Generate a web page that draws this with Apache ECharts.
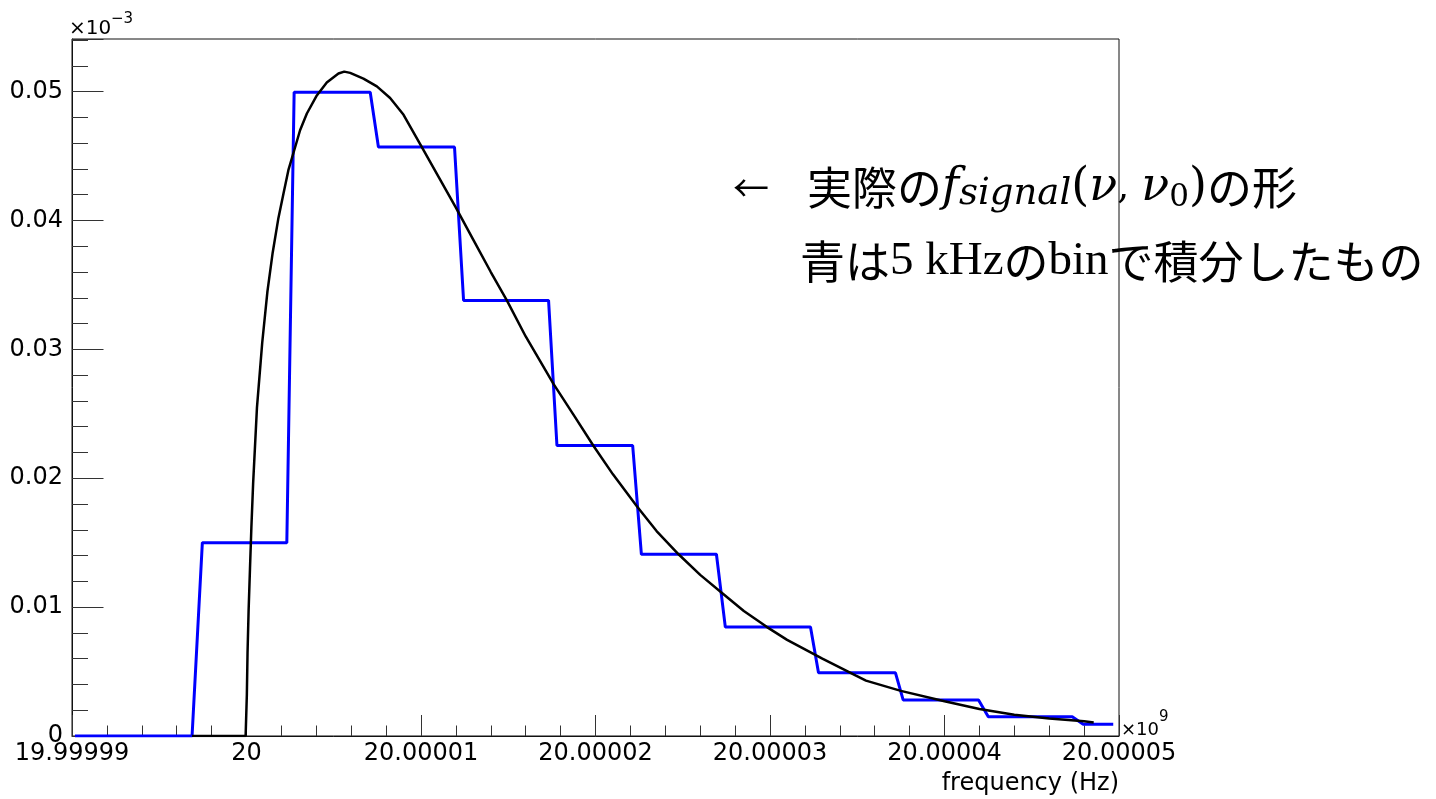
<!DOCTYPE html>
<html>
<head>
<meta charset="utf-8">
<script src="https://cdn.jsdelivr.net/npm/echarts@6/dist/echarts.min.js"></script>
<style>
  html, body { margin: 0; padding: 0; background: #ffffff; }
  #chart { width: 1436px; height: 799px; }
</style>
</head>
<body>
<div id="chart"></div>
<script>
// Frequency is stored as the offset from 20 GHz in kHz; the axis labels show it in units of 1e9 Hz.
const xTickLabels = ['19.99999', '20', '20.00001', '20.00002', '20.00003', '20.00004', '20.00005'];
// Values are in units of 1e-3 (the axis multiplier).
const yTickLabels = ['0', '0.01', '0.02', '0.03', '0.04', '0.05'];

// Lineshape f_signal(nu, nu0): sampled points (kHz offset, value)
const curveFreq = [-3.12, -0.05, 0.02, 0.06, 0.12, 0.2, 0.28, 0.38, 0.6, 0.9, 1.2, 1.5, 1.83, 2.12, 2.4,
  2.79, 3.07, 3.46, 4.03, 4.6, 5.27, 5.6, 5.94, 6.7, 7.47, 8.23, 9.0, 10.0, 11.0, 12.0, 13.0, 14.0,
  14.92, 16.0, 17.6, 18.8, 19.89, 21.0, 22.38, 23.5, 24.76, 26.0, 27.25, 28.5, 29.83, 30.98, 33.0,
  34.9, 35.5, 37.5, 40.0, 42.0, 44.0, 46.0, 48.0, 48.55];
const curveValue = [0, 0, 0.0032, 0.0065, 0.0097, 0.0130, 0.0162, 0.0196, 0.0255, 0.0305, 0.0345,
  0.0375, 0.0402, 0.0421, 0.0439, 0.0457, 0.0470, 0.0483, 0.0497, 0.0507, 0.0514, 0.05155, 0.05145,
  0.0510, 0.0504, 0.0495, 0.0482, 0.0458, 0.0434, 0.0410, 0.0385, 0.0360, 0.0338, 0.0310, 0.0273,
  0.0248, 0.0225, 0.0203, 0.0178, 0.0159, 0.0141, 0.0125, 0.0111, 0.0097, 0.00845, 0.00746, 0.0060,
  0.0047, 0.0043, 0.0035, 0.0027, 0.0021, 0.00165, 0.00135, 0.00115, 0.00105];

// Same lineshape integrated over 5 kHz bins, drawn as a stepped polyline
const histFreq = [-9.83, -3.12, -2.53, 2.31, 2.73, 7.09, 7.56, 11.92, 12.44, 17.31, 17.79, 22.13,
  22.63, 26.93, 27.44, 32.32, 32.78, 37.19, 37.63, 41.95, 42.51, 47.32, 47.95, 49.67];
const histValue = [0, 0, 0.0150, 0.0150, 0.04995, 0.04995, 0.0457, 0.0457, 0.0338, 0.0338, 0.02254,
  0.02254, 0.0141, 0.0141, 0.00845, 0.00845, 0.0049, 0.0049, 0.0028, 0.0028, 0.0015, 0.0015,
  0.00092, 0.00092];

const xAxisTitle = 'frequency (Hz)';
const yMultiplier = ['×10', '−3'];
const xMultiplier = ['×10', '9'];
const yMaxValue = 0.05408;

const axisFont = 'DejaVu Sans';
const cjkFont = '"Noto Sans CJK JP", "Noto Sans CJK SC", sans-serif';
const mathFont = '"DejaVu Serif", serif';
const romanFont = '"Liberation Serif", serif';

const chart = echarts.init(document.getElementById('chart'), null, { renderer: 'canvas' });

function plainText(left, top, text, size) {
  return {
    type: 'text', left: left, top: top, z: 10,
    style: { text: text, fontFamily: axisFont, fontSize: size, fill: '#000' }
  };
}

const option = {
  animation: false,
  backgroundColor: '#ffffff',
  grid: {
    left: 72, top: 39, right: 317, bottom: 63,
    show: true, borderColor: '#111', borderWidth: 1, backgroundColor: 'transparent'
  },
  xAxis: {
    type: 'value', min: -10, max: 50, interval: 10,
    axisLine: { show: true, onZero: false, lineStyle: { color: '#111', width: 1 } },
    axisTick: { show: true, inside: true, length: 21, lineStyle: { color: '#333', width: 1 } },
    minorTick: { show: true, splitNumber: 5, length: 10.5, lineStyle: { color: '#333', width: 1 } },
    splitLine: { show: false },
    axisLabel: {
      margin: 6, color: '#000', fontFamily: axisFont, fontSize: 24,
      formatter: function (v) {
        const k = Math.round((v + 10) / 10);
        if (Math.abs(v - (k * 10 - 10)) > 1e-6) return '';
        return xTickLabels[k] !== undefined ? xTickLabels[k] : '';
      }
    }
  },
  yAxis: {
    type: 'value', min: 0, max: yMaxValue, interval: 0.01,
    axisLine: { show: true, onZero: false, lineStyle: { color: '#111', width: 1 } },
    axisTick: { show: true, inside: true, length: 31.5, lineStyle: { color: '#333', width: 1 } },
    minorTick: { show: true, splitNumber: 5, length: 16, lineStyle: { color: '#333', width: 1 } },
    splitLine: { show: false },
    axisLabel: {
      margin: 9, color: '#000', fontFamily: axisFont, fontSize: 24,
      formatter: function (v) {
        const k = Math.round(v / 0.01);
        if (Math.abs(v - k * 0.01) > 1e-7) return '';
        return yTickLabels[k] !== undefined ? yTickLabels[k] : '';
      }
    }
  },
  series: [
    {
      name: 'binned', type: 'line', showSymbol: false, z: 2,
      data: histFreq.map((f, i) => [f, histValue[i]]),
      lineStyle: { color: '#0000ff', width: 3 }
    },
    {
      name: 'lineshape', type: 'line', showSymbol: false, z: 3,
      data: curveFreq.map((f, i) => [f, curveValue[i]]),
      lineStyle: { color: '#000000', width: 2.5 }
    }
  ],
  graphic: [
    // axis multipliers
    plainText(69, 19, yMultiplier[0], 20),
    plainText(111, 12, yMultiplier[1], 15),
    plainText(1121, 721, xMultiplier[0], 18),
    plainText(1159, 710, xMultiplier[1], 15),
    {
      type: 'text', right: 317, top: 772, z: 10,
      style: { text: xAxisTitle, fontFamily: axisFont, fontSize: 24, fill: '#000' }
    },
    {
      type: 'text', left: 733, top: 165, z: 10,
      style: {
        text: '{arr|←}{gap| }{cjk|実際の}{mi|f}{sub|signal}{mr|(}{mi|ν}{cm|, }{mi|ν}{sub0|0}{mr|)}{cjk|の形}',
        rich: {
          arr: { fontFamily: cjkFont, fontSize: 36, lineHeight: 50, fill: '#000' },
          gap: { width: 38, lineHeight: 50 },
          cjk: { fontFamily: cjkFont, fontSize: 45, lineHeight: 50, fill: '#000' },
          mi: { fontFamily: mathFont, fontStyle: 'italic', fontSize: 46, lineHeight: 50, fill: '#000' },
          mr: { fontFamily: mathFont, fontSize: 46, lineHeight: 50, fill: '#000' },
          cm: { fontFamily: mathFont, fontSize: 38, lineHeight: 50, fill: '#000' },
          sub: { fontFamily: mathFont, fontStyle: 'italic', fontSize: 37, lineHeight: 36, verticalAlign: 'bottom', fill: '#000' },
          sub0: { fontFamily: mathFont, fontSize: 31, lineHeight: 30, verticalAlign: 'bottom', fill: '#000' }
        }
      }
    },
    {
      type: 'text', left: 800, top: 238, z: 10,
      style: {
        text: '{cjk|青は}{ser|5 kHz}{cjk|の}{ser|bin}{cjk|で積分したもの}',
        rich: {
          cjk: { fontFamily: cjkFont, fontSize: 45, lineHeight: 50, fill: '#000' },
          ser: { fontFamily: romanFont, fontSize: 47, lineHeight: 50, fill: '#000' }
        }
      }
    }
  ]
};

chart.setOption(option);
</script>
</body>
</html>
